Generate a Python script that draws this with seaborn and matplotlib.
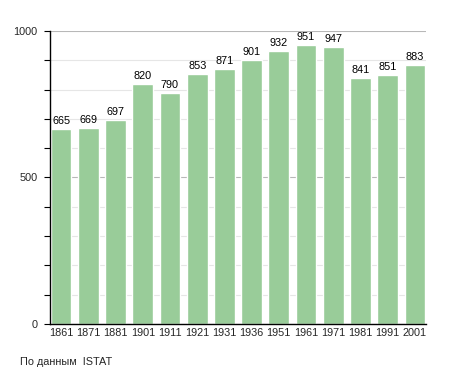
import matplotlib
matplotlib.use("Agg")
import matplotlib.pyplot as plt
from matplotlib.ticker import MultipleLocator
import seaborn as sns
import pandas as pd

years = ["1861", "1871", "1881", "1901", "1911", "1921", "1931", "1936",
         "1951", "1961", "1971", "1981", "1991", "2001"]
population = [665, 669, 697, 820, 790, 853, 871, 901, 932, 951, 947, 841, 851, 883]

sns.set_theme(style="white")
plt.rcParams['font.family'] = ['Liberation Sans', 'DejaVu Sans']

df = pd.DataFrame({"year": years, "pop": population})

fig = plt.figure(figsize=(4.55, 3.73), dpi=100)
ax = fig.add_axes([0.1099, 0.1314, 0.8264, 0.7855])

ax.set_axisbelow(True)
sns.barplot(data=df, x="year", y="pop", color="#99cc99", saturation=1,
            width=0.76, ax=ax)

ax.set_ylim(0, 1000)
ax.set_xlim(-0.41, len(years) - 1 + 0.41)
ax.yaxis.set_major_locator(MultipleLocator(500))
ax.yaxis.set_minor_locator(MultipleLocator(100))
ax.grid(axis="y", which="minor", color="#e6e6e6", linewidth=0.8)
ax.grid(axis="y", which="major", color="#b8b8b8", linewidth=0.8)
ax.grid(axis="x", visible=False)

for s in ["top", "right"]:
    ax.spines[s].set_visible(False)
for s in ["left", "bottom"]:
    ax.spines[s].set_color("black")
    ax.spines[s].set_linewidth(1.0)

fs = 7.8
ax.tick_params(axis="y", which="both", left=True, length=4, width=0.8,
               color="black", labelsize=fs, pad=5)
ax.tick_params(axis="x", bottom=False, length=0, labelsize=fs, pad=3)
ax.set_xlabel("")
ax.set_ylabel("")

for i, v in enumerate(population):
    ax.text(i, v + 10, str(v), ha="center", va="bottom", fontsize=fs,
            color="black")

fig.text(0.045, 0.03, "По данным  ISTAT", fontsize=fs, ha="left",
         va="center")

fig.savefig("out.png", dpi=100)
